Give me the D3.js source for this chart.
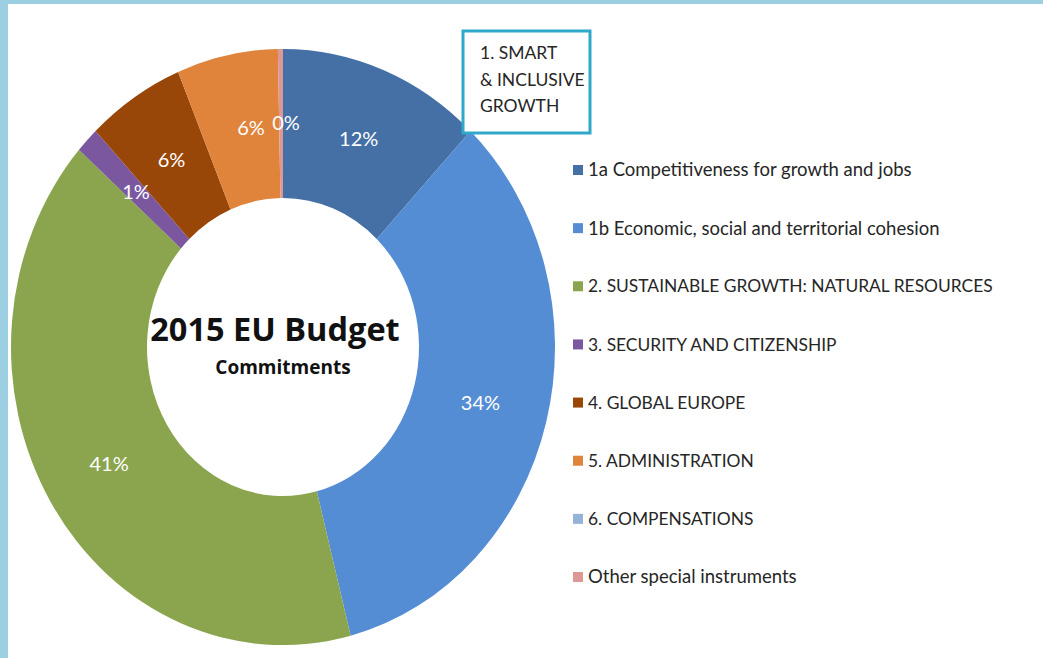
<!DOCTYPE html>
<html lang="en">
<head>
<meta charset="utf-8">
<script src="https://cdn.jsdelivr.net/npm/d3@7"></script>
<style>
    body { margin: 0; background: #9ccfe2; }
    svg { display: block; }
    .pct { fill: white; font-family: Lato, "Open Sans", sans-serif; font-size: 20px; }
    .legend text { fill: #262626; font-family: Lato, "Open Sans", sans-serif; font-size: 18.5px; }
    .legend text.caps { font-size: 17.4px; }
    .title { font-family: "Open Sans", Lato, sans-serif; font-weight: bold; fill: #111; }
    .box text { font-family: Lato, "Open Sans", sans-serif; font-size: 17.5px; fill: #262626; }
</style>
</head>
<body>
<div id="chart"></div>
<script>
    // slices of the 2015 EU budget commitments (percent of total)
    var categories = ["1a Competitiveness for growth and jobs",
        "1b Economic, social and territorial cohesion",
        "2. SUSTAINABLE GROWTH: NATURAL RESOURCES",
        "3. SECURITY AND CITIZENSHIP",
        "4. GLOBAL EUROPE",
        "5. ADMINISTRATION",
        "6. COMPENSATIONS",
        "Other special instruments"];
    var shares = [12.1, 33.9, 40.5, 1.4, 5.8, 6.0, 0.0, 0.3];
    var colors = ["#4470a6", "#558dd5", "#8aa54e", "#7a579f", "#994709", "#e0843b", "#95b2d7", "#dd9794"];
    var boxLines = ["1. SMART", "& INCLUSIVE", "GROWTH"];

    var W = 1043, H = 658;
    var cx = 283, cy = 347;
    var rOuter = 272, rInner = 136;
    var squash = 1.096;   // the picture is a bit taller than wide

    var svg = d3.select("#chart").append("svg")
        .attr("width", W)
        .attr("height", H);

    // white page inside the light blue frame
    svg.append("rect")
        .attr("x", 8).attr("y", 4)
        .attr("width", W - 8).attr("height", H - 4)
        .attr("fill", "white");

    var pie = d3.pie().sort(null).value(function (d) { return d; });
    var arcs = pie(shares);

    var arc = d3.arc().innerRadius(rInner).outerRadius(rOuter);
    var midArc = d3.arc().innerRadius((rInner + rOuter) / 2).outerRadius((rInner + rOuter) / 2);

    var donut = svg.append("g")
        .attr("transform", "translate(" + cx + "," + cy + ") scale(1," + squash + ")");

    donut.selectAll("path")
        .data(arcs)
        .enter().append("path")
        .attr("d", arc)
        .attr("fill", function (d, i) { return colors[i]; });

    // percent labels, kept out of the squashed group so the text is not stretched
    var labelled = arcs.filter(function (d, i) { return i !== 6; });
    svg.append("g")
        .selectAll("text")
        .data(labelled)
        .enter().append("text")
        .attr("class", "pct")
        .attr("text-anchor", "middle")
        .attr("dy", "0.35em")
        .attr("x", function (d) {
            var c = midArc.centroid(d);
            // small slices: nudge so the texts don't sit on top of each other
            return cx + c[0] + (d.index === 5 ? 10 : 0) + (d.index === 7 ? 5 : 0);
        })
        .attr("y", function (d) { return cy + midArc.centroid(d)[1] * squash; })
        .text(function (d) { return Math.round(d.data) + "%"; });

    // centre title
    svg.append("text")
        .attr("class", "title")
        .attr("x", cx - 8).attr("y", 341)
        .attr("text-anchor", "middle")
        .style("font-size", "32.5px")
        .text("2015 EU Budget");
    svg.append("text")
        .attr("class", "title")
        .attr("x", cx).attr("y", 374)
        .attr("text-anchor", "middle")
        .style("font-size", "19px")
        .text("Commitments");

    // legend
    var legendY = d3.scalePoint()
        .domain(categories)
        .range([170, 577]);

    var legend = svg.append("g").attr("class", "legend");
    var rows = legend.selectAll("g")
        .data(categories)
        .enter().append("g")
        .attr("transform", function (d) { return "translate(573," + legendY(d) + ")"; });

    rows.append("rect")
        .attr("x", 0).attr("y", -5)
        .attr("width", 10).attr("height", 10)
        .attr("fill", function (d, i) { return colors[i]; });

    rows.append("text")
        .attr("class", function (d) { return d === d.toUpperCase() ? "caps" : null; })
        .attr("x", 15)
        .attr("dy", "0.35em")
        .text(function (d) { return d; });

    // call-out box over heading 1
    var box = svg.append("g").attr("class", "box");
    box.append("rect")
        .attr("x", 463).attr("y", 31)
        .attr("width", 127).attr("height", 102)
        .attr("fill", "white")
        .attr("stroke", "#30a8c9")
        .attr("stroke-width", 3);
    box.selectAll("text")
        .data(boxLines)
        .enter().append("text")
        .attr("x", 480)
        .attr("y", function (d, i) { return 59 + i * 26.5; })
        .text(function (d) { return d; });
</script>
</body>
</html>
